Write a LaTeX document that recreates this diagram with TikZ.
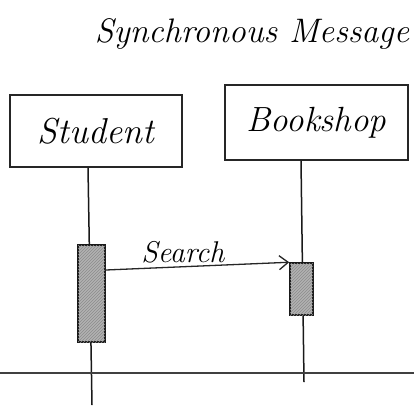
\documentclass[tikz,border=0pt]{standalone}
\usetikzlibrary{arrows.meta,patterns}
\begin{document}
\begin{tikzpicture}[x=1pt,y=-1pt,
  hand/.style={font=\itshape},
  objbox/.style={draw=black!85, line width=1.4pt, minimum width=172pt, minimum height=72pt, inner sep=0pt, font=\itshape\fontsize{36}{40}\selectfont},
  life/.style={draw=black!90, line width=1.5pt},
  actbox/.style={draw=black!90, line width=1.5pt, fill=gray!60, postaction={pattern=north east lines, pattern color=black!45}},
  msg/.style={draw=black!85, line width=1.3pt, -{Straight Barb[length=9pt,width=14pt]}}
]
\useasboundingbox (0,0) rectangle (414,405);
\fill[white] (0,0) rectangle (414,405);
\node[hand, font=\itshape\fontsize{34}{40}\selectfont] (title) at (252,34) {Synchronous Message};
\node[objbox] (student) at (96,131) {Student};
\node[objbox, minimum width=183pt, minimum height=75pt, font=\itshape\fontsize{35}{40}\selectfont] (bookshop) at (316.5,122.5) {Bookshop};
\coordinate (sEnd) at (92,405);
\coordinate (bEnd) at (304,382);
\draw[life] (student.south -| 88,0) -- (sEnd);
\draw[life] (bookshop.south -| 301,0) -- (bEnd);
\node[actbox, minimum width=27pt, minimum height=97pt, inner sep=0pt] (sact) at (91.5,293.5) {};
\node[actbox, minimum width=23pt, minimum height=52pt, inner sep=0pt] (bact) at (301.5,289) {};
\coordinate (msgStart) at (105,270);
\draw[msg] (sact.east |- msgStart) -- (bact.north west) node[pos=0.42, above=0pt, font=\itshape\fontsize{30}{34}\selectfont] (lbl) {Search};
\coordinate (hl) at (0,373);
\coordinate (hr) at (414,373);
\draw[draw=black!75, line width=1.3pt] (hl) -- (hr);
\end{tikzpicture}
\end{document}
